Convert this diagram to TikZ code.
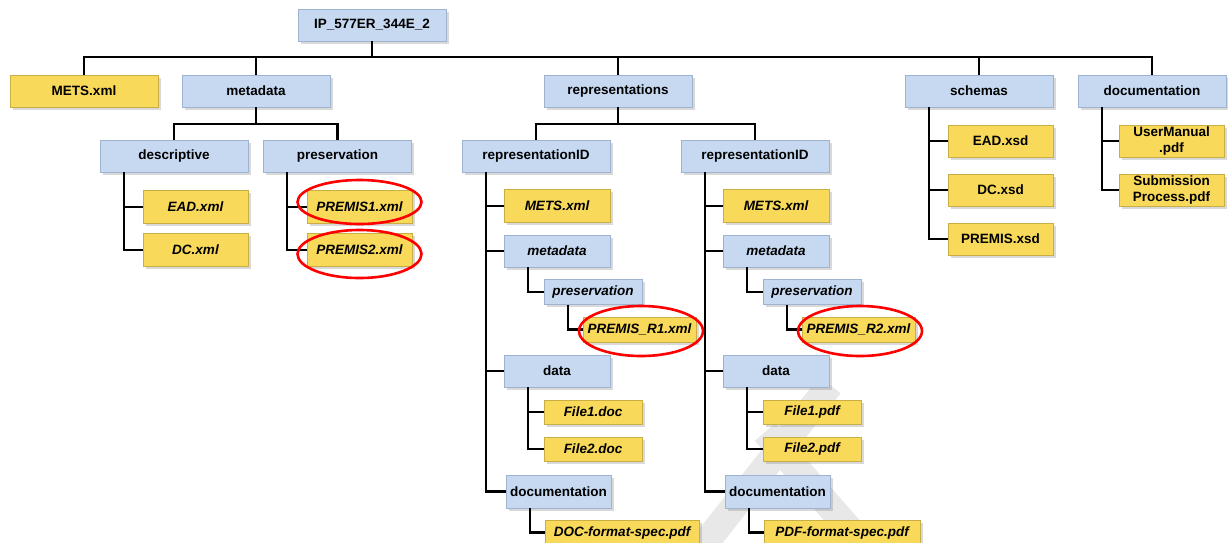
\documentclass[tikz,border=0pt]{standalone}
\usepackage{fontspec}
\setmainfont{Liberation Sans}
\usetikzlibrary{shadows}
\definecolor{folderblue}{HTML}{C6D9F1}
\definecolor{folderedge}{HTML}{9DB3D0}
\definecolor{fileyellow}{HTML}{F8D95A}
\definecolor{fileedge}{HTML}{C9AE45}
\tikzstyle{box} = [draw, line width=0.8pt, inner sep=1pt, align=center, font=\fontsize{13.5}{16}\selectfont\bfseries, drop shadow={shadow xshift=2.5pt, shadow yshift=-2.5pt, opacity=0.3}]
\tikzstyle{folder} = [box, fill=folderblue, draw=folderedge, minimum width=148pt, minimum height=32pt]
\tikzstyle{file} = [box, fill=fileyellow, draw=fileedge, minimum width=105pt, minimum height=33pt]
\tikzstyle{ital} = [font=\fontsize{13.5}{16}\selectfont\bfseries\itshape]
\tikzstyle{link} = [draw, line width=2.1pt]
\tikzstyle{ring} = [draw=red, line width=2.6pt]

\begin{document}
\begin{tikzpicture}[x=1pt,y=-1pt]
\useasboundingbox (0,0) rectangle (1228,542);
\clip (0,0) rectangle (1228,542);
% grey band behind the tree
\draw[line width=27pt, gray!18] (688,565) -- (830,385);
\draw[line width=27pt, gray!18] (765,432) -- (885,570);

% top level
\node[folder] (root) at (372,25) {IP\_577ER\_344E\_2};
\node[file, minimum width=148pt, minimum height=32pt] (mets) at (84,91) {METS.xml};
\node[folder] (meta) at (256,91) {metadata};
\node[folder] (reps) at (618,91) {representations};
\node[folder] (schemas) at (979,91) {schemas};
\node[folder] (docs) at (1152,91) {documentation};

\node[folder] (desc) at (174,156) {descriptive};
\node[folder] (pres) at (337.5,156) {preservation};
\node[folder] (repA) at (536,156) {representationID};
\node[folder] (repB) at (755,156) {representationID};

\node[file, ital] (ead) at (195.5,207) {EAD.xml};
\node[file, ital] (dc) at (195.5,250) {DC.xml};
\node[file, ital] (premA) at (359.5,207) {PREMIS1.xml};
\node[file, ital] (premB) at (359.5,250) {PREMIS2.xml};

\node[file, minimum height=32pt] (eadxsd) at (1000.5,141) {EAD.xsd};
\node[file, minimum height=32pt] (dcxsd) at (1000.5,190) {DC.xsd};
\node[file, minimum height=32pt] (premxsd) at (1000.5,239) {PREMIS.xsd};
\node[file, minimum height=32pt] (manual) at (1171.5,141) {UserManual\\.pdf};
\node[file, minimum height=32pt] (subm) at (1171.5,190) {Submission\\Process.pdf};

% first representation
\node[file, ital, minimum width=106pt] (metsA) at (557,206) {METS.xml};
\node[folder, ital, minimum width=106pt] (metaA) at (557,251) {metadata};
\node[folder, ital, minimum width=98pt, minimum height=25pt] (presA) at (593,292) {preservation};
\node[file, ital, minimum width=113pt, minimum height=25pt] (premRA) at (639.5,329.5) {PREMIS\_R1.xml};
\node[folder, minimum width=106pt] (dataA) at (557,371) {data};
\node[file, ital, minimum width=98pt, minimum height=24pt] (fileAA) at (593,412) {File1.doc};
\node[file, ital, minimum width=98pt, minimum height=24pt] (fileAB) at (593,449) {File2.doc};
\node[folder, minimum width=105pt, minimum height=33pt] (docA) at (558.5,491.5) {documentation};
\node[file, ital, minimum width=154pt, minimum height=25pt] (specA) at (622,532.5) {DOC-format-spec.pdf};

% second representation
\node[file, ital, minimum width=106pt] (metsB) at (776,206) {METS.xml};
\node[folder, ital, minimum width=106pt] (metaB) at (776,251) {metadata};
\node[folder, ital, minimum width=98pt, minimum height=25pt] (presB) at (812,292) {preservation};
\node[file, ital, minimum width=113pt, minimum height=25pt] (premRB) at (858.5,329.5) {PREMIS\_R2.xml};
\node[folder, minimum width=106pt] (dataB) at (776,371) {data};
\node[file, ital, minimum width=98pt, minimum height=24pt] (fileBA) at (812,412) {File1.pdf};
\node[file, ital, minimum width=98pt, minimum height=24pt] (fileBB) at (812,449) {File2.pdf};
\node[folder, minimum width=105pt, minimum height=33pt] (docB) at (777.5,491.5) {documentation};
\node[file, ital, minimum width=156pt, minimum height=25pt] (specB) at (842,532.5) {PDF-format-spec.pdf};

% buses
\coordinate (busA) at (372,57);
\coordinate (busB) at (256,124);
\coordinate (busC) at (618,124);
\draw[link] (root.south) -- (busA);
\draw[link] (mets.north) |- (busA) -| (docs.north);
\foreach \n in {meta,reps,schemas}
  \draw[link] (\n.north) -- (\n.north |- busA);
\draw[link] (meta.south) -- (busB);
\draw[link] (desc.north) |- (busB) -| (pres.north);
\draw[link] (reps.south) -- (busC);
\draw[link] (repA.north) |- (busC) -| (repB.north);

% trunks
\foreach \p/\c in {desc/ead, desc/dc, pres/premA, pres/premB,
                   schemas/eadxsd, schemas/dcxsd, schemas/premxsd,
                   docs/manual, docs/subm,
                   repA/metsA, repA/metaA, repA/dataA, repA/docA,
                   metaA/presA, presA/premRA, dataA/fileAA, dataA/fileAB, docA/specA,
                   repB/metsB, repB/metaB, repB/dataB, repB/docB,
                   metaB/presB, presB/premRB, dataB/fileBA, dataB/fileBB, docB/specB}
  \draw[link] ([xshift=24pt]\p.south west) |- (\c.west);

% highlighted files
\draw[ring] ([yshift=5pt]premA.center) ellipse [x radius=62, y radius=22];
\draw[ring] ([yshift=-4pt]premB.center) ellipse [x radius=62, y radius=24];
\draw[ring] ([xshift=1.5pt,yshift=-1.5pt]premRA.center) ellipse [x radius=62, y radius=25];
\draw[ring] ([xshift=1.5pt,yshift=-1.5pt]premRB.center) ellipse [x radius=62, y radius=25];
\end{tikzpicture}
\end{document}
